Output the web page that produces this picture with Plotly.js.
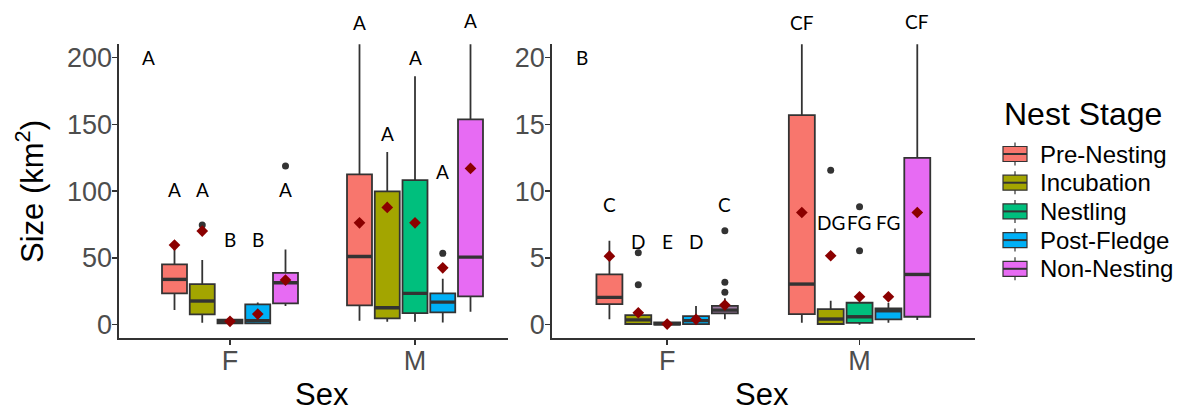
<!DOCTYPE html>
<html>
<head>
<meta charset="utf-8">
<script src="https://cdn.plot.ly/plotly-3.0.1.min.js"></script>
<style>
  html, body { margin: 0; padding: 0; background: #ffffff; }
  #chart { width: 1195px; height: 413px; }
</style>
</head>
<body>
<div id="chart"></div>
<script>
// ---- categories ----
const sexes = ['F', 'M'];
const stages = ['Pre-Nesting', 'Incubation', 'Nestling', 'Post-Fledge', 'Non-Nesting'];
const stageColors = ['#F8766D', '#A3A500', '#00BF7D', '#00B0F6', '#E76BF3'];

// ---- panel A: home range size (km2); each row is a stage, columns are [F, M] ----
const homeLower  = [[10.9, 2.9], [1.4, 2.2], [0.4, 2.2], [0.6, 1.7], [14.0, 9.7]];
const homeQ1     = [[23.4, 14.4], [7.7, 4.7], [1.0, 8.7], [1.0, 9.2], [16.0, 21.2]];
const homeMedian = [[33.9, 51.1], [17.7, 12.7], [2.3, 23.4], [3.0, 16.9], [31.4, 50.6]];
const homeQ3     = [[45.1, 112.5], [30.4, 99.8], [3.8, 108.2], [15.2, 23.4], [38.8, 153.7]];
const homeUpper  = [[61.3, 245.0], [48.4, 129.4], [4.8, 186.1], [16.5, 34.4], [56.3, 245.0]];
const homeMean   = [[59.6, 76.3], [70.1, 87.8], [2.5, 76.3], [7.9, 42.6], [33.4, 117.0]];
const homeOutliers = [[[], []], [[74.6], []], [[], []], [[], [53.4]], [[118.8], []]];
const homeLetters  = [['A', 'A'], ['A', 'A'], ['B', 'A'], ['B', 'A'], ['A', 'A']];
const homeLetterY  = [[101, 226.7], [101, 142.9], [64, 200], [64, 114.4], [101, 228]];

// ---- panel B: core area size (km2) ----
const coreLower  = [[0.40, 0.14], [0.02, 0.02], [0.00, 0.00], [0.02, 0.14], [0.40, 0.34]];
const coreQ1     = [[1.54, 0.79], [0.05, 0.05], [0.01, 0.14], [0.04, 0.40], [0.85, 0.59]];
const coreMedian = [[2.04, 3.04], [0.36, 0.42], [0.06, 0.59], [0.30, 1.04], [1.09, 3.76]];
const coreQ3     = [[3.76, 15.69], [0.72, 1.17], [0.16, 1.64], [0.64, 1.22], [1.41, 12.49]];
const coreUpper  = [[6.28, 25.0], [1.22, 1.79], [0.20, 1.64], [1.39, 1.64], [1.97, 25.0]];
const coreMean   = [[5.13, 8.40], [0.89, 5.16], [0.04, 2.09], [0.40, 2.09], [1.47, 8.40]];
const coreOutliers = [[[], []], [[5.38, 2.99], [11.57]], [[], [8.83, 5.53]], [[], []], [[7.03, 3.17, 2.42], []]];
const coreLetters  = [['C', 'CF'], ['D', 'DG'], ['E', 'FG'], ['D', 'FG'], ['C', 'CF']];
const coreLetterY  = [[9.03, 22.6], [6.2, 7.68], [6.2, 7.68], [6.2, 7.68], [9.03, 22.7]];

const panelTags = ['A', 'B'];
const panelTagY = [200, 20];

// ---- drawing helpers ----
const W = 1195, H = 413;
const px = v => v / W;
const py = v => 1 - v / H;
const DODGE = 0.15, BOXW = 0.135;
const boxPos = (stageIdx, sexIdx) => (sexIdx + 1) + (stageIdx - 2) * DODGE;
const outline = '#333333';

const panels = [
  { xa: 'x',  ya: 'y',  yr: [-10, 210], ticks: [0, 50, 100, 150, 200],
    lo: homeLower, q1: homeQ1, med: homeMedian, q3: homeQ3, hi: homeUpper,
    mean: homeMean, out: homeOutliers, letters: homeLetters, letterY: homeLetterY, fill: {} },
  { xa: 'x2', ya: 'y2', yr: [-1, 21], ticks: [0, 5, 10, 15, 20],
    lo: coreLower, q1: coreQ1, med: coreMedian, q3: coreQ3, hi: coreUpper,
    mean: coreMean, out: coreOutliers, letters: coreLetters, letterY: coreLetterY,
    fill: { '4-0': '#9A789F' } }
];

const letterFont = { family: 'Lato, "Open Sans", sans-serif', size: 19, color: '#000' };
const traces = [];
const annotations = [];

panels.forEach((p, pi) => {
  const medX = [], medY = [], outX = [], outY = [], meanX = [], meanY = [];
  stages.forEach((st, si) => {
    sexes.forEach((sx, ki) => {
      const pos = boxPos(si, ki);
      traces.push({
        type: 'box', orientation: 'v', xaxis: p.xa, yaxis: p.ya,
        x: [pos],
        lowerfence: [p.lo[si][ki]], q1: [p.q1[si][ki]], median: [p.med[si][ki]],
        q3: [p.q3[si][ki]], upperfence: [p.hi[si][ki]],
        width: BOXW, whiskerwidth: 0, boxpoints: false,
        fillcolor: p.fill[si + '-' + ki] || stageColors[si],
        line: { color: outline, width: 1.8 },
        name: st, showlegend: false, hoverinfo: 'skip'
      });
      medX.push(pos - BOXW / 2, pos + BOXW / 2, null);
      medY.push(p.med[si][ki], p.med[si][ki], null);
      p.out[si][ki].forEach(v => { outX.push(pos); outY.push(v); });
      meanX.push(pos); meanY.push(p.mean[si][ki]);

      annotations.push({
        xref: p.xa, yref: p.ya + ' domain', x: pos,
        y: (p.letterY[si][ki] - p.yr[0]) / (p.yr[1] - p.yr[0]),
        xanchor: 'center', yanchor: 'middle',
        text: p.letters[si][ki], showarrow: false, font: letterFont
      });
    });
  });
  traces.push({ type: 'scatter', mode: 'lines', xaxis: p.xa, yaxis: p.ya, x: medX, y: medY,
    line: { color: '#333333', width: 3.4 }, showlegend: false, hoverinfo: 'skip' });
  traces.push({ type: 'scatter', mode: 'markers', xaxis: p.xa, yaxis: p.ya, x: outX, y: outY,
    marker: { symbol: 'circle', size: 7, color: '#333333' }, showlegend: false, hoverinfo: 'skip' });
  traces.push({ type: 'scatter', mode: 'markers', xaxis: p.xa, yaxis: p.ya, x: meanX, y: meanY,
    marker: { symbol: 'diamond', size: 9, color: '#8B0000' }, showlegend: false, hoverinfo: 'skip' });

  annotations.push({
    xref: p.xa, yref: p.ya + ' domain', x: 0.56,
    y: (panelTagY[pi] - p.yr[0]) / (p.yr[1] - p.yr[0]),
    xanchor: 'center', yanchor: 'middle',
    text: panelTags[pi], showarrow: false, font: letterFont
  });
});

// axis titles
const titleFont = { family: '"Liberation Sans", Arial, sans-serif', size: 31, color: '#000' };
const paperText = (x, y, text, font, extra) => Object.assign({
  xref: 'paper', yref: 'paper', x: px(x), y: py(y), xanchor: 'center', yanchor: 'middle',
  text: text, showarrow: false, font: font }, extra || {});
annotations.push(paperText(322, 394, 'Sex', titleFont));
annotations.push(paperText(762, 394, 'Sex', titleFont));
annotations.push(paperText(30, 192, 'Size (km<sup>2</sup>)', titleFont, { textangle: -90 }));

// legend: key boxes drawn as small boxplots
const shapes = [];
const legX0 = 1003, legX1 = 1027, legTop = 154, legStep = 28.7, keyH = 15;
annotations.push(paperText(legX0 - 1, 114, 'Nest Stage',
  { family: titleFont.family, size: 32, color: '#000' }, { xanchor: 'left' }));
const itemFont = { family: '"Liberation Sans", Arial, sans-serif', size: 24, color: '#000' };
stages.forEach((st, i) => {
  const cy = legTop + i * legStep;
  const mid = (legX0 + legX1) / 2;
  shapes.push({ type: 'line', xref: 'paper', yref: 'paper', x0: px(mid), x1: px(mid),
    y0: py(cy - keyH / 2 - 4), y1: py(cy + keyH / 2 + 4), line: { color: outline, width: 1.2 } });
  shapes.push({ type: 'rect', xref: 'paper', yref: 'paper', x0: px(legX0), x1: px(legX1),
    y0: py(cy - keyH / 2), y1: py(cy + keyH / 2), fillcolor: stageColors[i],
    line: { color: outline, width: 1.2 } });
  shapes.push({ type: 'line', xref: 'paper', yref: 'paper', x0: px(legX0), x1: px(legX1),
    y0: py(cy), y1: py(cy), line: { color: outline, width: 2 } });
  annotations.push(paperText(1038, cy, st, itemFont, { xanchor: 'left' }));
});

const tickFont = { family: '"Liberation Sans", Arial, sans-serif', size: 27, color: '#4D4D4D' };
const axisCommon = {
  showline: true, linecolor: '#333333', linewidth: 1.6,
  ticks: 'outside', ticklen: 5, tickwidth: 1.5, tickcolor: '#333333',
  tickfont: tickFont, showgrid: false, zeroline: false, fixedrange: true
};

const layout = {
  width: W, height: H,
  margin: { l: 0, r: 0, t: 0, b: 0 },
  paper_bgcolor: '#ffffff', plot_bgcolor: '#ffffff',
  showlegend: false,
  xaxis:  Object.assign({}, axisCommon, { domain: [px(119), px(507.5)], range: [0.4, 2.5], anchor: 'y',
    tickmode: 'array', tickvals: [1, 2], ticktext: sexes, ticklabelstandoff: -7 }),
  yaxis:  Object.assign({}, axisCommon, { domain: [py(338), py(44.3)], range: [-10, 210], anchor: 'x',
    tickmode: 'array', tickvals: panels[0].ticks, ticklabelstandoff: -5 }),
  xaxis2: Object.assign({}, axisCommon, { domain: [px(551.7), px(975)], range: [0.4, 2.6], anchor: 'y2',
    tickmode: 'array', tickvals: [1, 2], ticktext: sexes, ticklabelstandoff: -7 }),
  yaxis2: Object.assign({}, axisCommon, { domain: [py(338), py(44.3)], range: [-1, 21], anchor: 'x2',
    tickmode: 'array', tickvals: panels[1].ticks, ticklabelstandoff: -5 }),
  annotations: annotations,
  shapes: shapes
};

Plotly.newPlot('chart', traces, layout, { displayModeBar: false, staticPlot: true });
</script>
</body>
</html>
